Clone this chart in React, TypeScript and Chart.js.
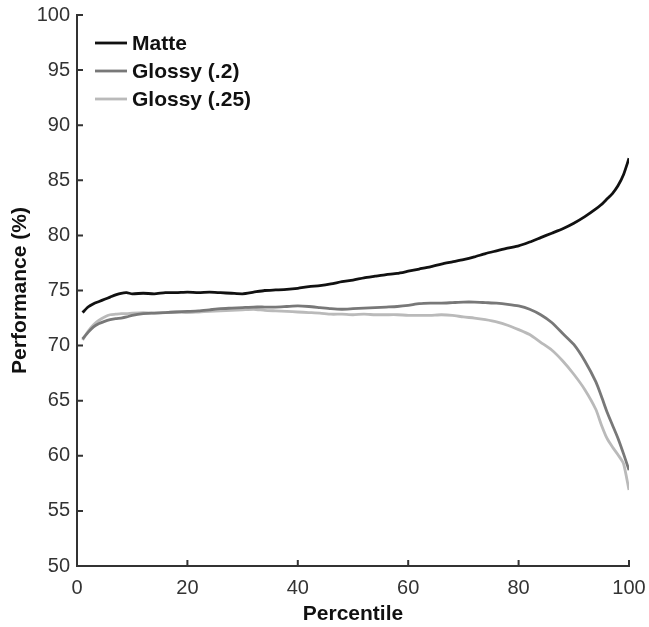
import React, { useEffect, useRef } from "react";
import { Chart, registerables } from "chart.js";

Chart.register(...registerables);

const percentiles = [1,2,3,4,5,6,7,8,9,10,12,14,16,18,20,22,24,26,28,30,32,34,36,38,40,42,44,46,48,50,52,54,56,58,60,62,64,66,68,70,72,74,76,78,80,82,84,86,88,90,92,94,95,96,97,98,99,100];

const matte = [73.0,73.5,73.8,74.0,74.2,74.4,74.6,74.75,74.8,74.7,74.75,74.7,74.8,74.8,74.85,74.8,74.85,74.8,74.75,74.7,74.85,75.0,75.05,75.1,75.2,75.35,75.45,75.6,75.8,75.95,76.15,76.3,76.45,76.55,76.75,76.95,77.15,77.4,77.6,77.8,78.05,78.35,78.6,78.85,79.05,79.4,79.8,80.2,80.6,81.1,81.7,82.4,82.8,83.3,83.8,84.5,85.5,87.0];

const glossy20 = [70.6,71.2,71.7,72.0,72.2,72.35,72.45,72.5,72.6,72.75,72.9,72.95,73.0,73.05,73.1,73.15,73.25,73.35,73.4,73.45,73.5,73.5,73.5,73.55,73.6,73.55,73.45,73.35,73.3,73.35,73.4,73.45,73.5,73.55,73.65,73.8,73.85,73.85,73.9,73.95,73.95,73.9,73.85,73.75,73.6,73.3,72.8,72.1,71.1,70.1,68.6,66.7,65.4,64.0,62.8,61.6,60.2,58.7];

const glossy25 = [70.5,71.3,71.9,72.3,72.6,72.8,72.85,72.9,72.9,72.95,73.0,72.95,73.0,73.05,73.0,73.05,73.1,73.15,73.2,73.25,73.3,73.2,73.15,73.1,73.05,73.0,72.95,72.85,72.85,72.8,72.85,72.8,72.8,72.8,72.75,72.75,72.75,72.8,72.75,72.6,72.5,72.35,72.15,71.85,71.45,71.0,70.3,69.6,68.6,67.4,66.0,64.2,62.8,61.6,60.8,60.1,59.3,56.9];

const seriesLabels = ["Matte", "Glossy (.2)", "Glossy (.25)"];
const seriesColors = ["#111111", "#787878", "#bababa"];

const xTicks = [0, 20, 40, 60, 80, 100];
const yTicks = [50, 55, 60, 65, 70, 75, 80, 85, 90, 95, 100];

const FONT = "'Liberation Sans', Arial, Helvetica, sans-serif";

const innerTicksAndLegend = {
  id: "innerTicksAndLegend",
  afterDraw(chart: any) {
    const ctx = chart.ctx;
    const { left, bottom } = chart.chartArea;
    const xs = chart.scales.x;
    const ys = chart.scales.y;
    ctx.save();
    ctx.strokeStyle = "#333333";
    ctx.lineWidth = 2;
    ctx.beginPath();
    yTicks.forEach((v) => {
      const py = ys.getPixelForValue(v);
      ctx.moveTo(left, py);
      ctx.lineTo(left + 6, py);
    });
    xTicks.forEach((v) => {
      const px = xs.getPixelForValue(v);
      ctx.moveTo(px, bottom);
      ctx.lineTo(px, bottom - 6);
    });
    ctx.stroke();

    // legend
    chart.data.datasets.forEach((ds: any, i: number) => {
      const y = 43 + 28 * i;
      ctx.strokeStyle = ds.borderColor;
      ctx.lineWidth = 2.8;
      ctx.beginPath();
      ctx.moveTo(95, y);
      ctx.lineTo(127, y);
      ctx.stroke();
      ctx.fillStyle = "#111111";
      ctx.font = `bold 21px ${FONT}`;
      ctx.textBaseline = "middle";
      ctx.textAlign = "left";
      ctx.fillText(ds.label, 132, y + 1);
    });
    ctx.restore();
  },
};

export default function App() {
  const ref = useRef<HTMLCanvasElement | null>(null);

  useEffect(() => {
    document.body.style.margin = "0";
    const canvas = ref.current;
    if (!canvas) return;
    const seriesValues = [matte, glossy20, glossy25];
    const chart = new Chart(canvas, {
      type: "line",
      data: {
        datasets: seriesValues.map((vals, i) => ({
          label: seriesLabels[i],
          data: percentiles.map((p, j) => ({ x: p, y: vals[j] })),
          borderColor: seriesColors[i],
          backgroundColor: seriesColors[i],
          borderWidth: 2.8,
          pointRadius: 0,
          tension: 0.2,
          fill: false,
        })),
      },
      options: {
        animation: false,
        responsive: false,
        maintainAspectRatio: false,
        layout: { padding: { top: 15, right: 20, left: 0, bottom: 0 } },
        plugins: {
          legend: { display: false },
          tooltip: { enabled: false },
        },
        scales: {
          x: {
            type: "linear",
            min: 0,
            max: 100,
            afterBuildTicks: (scale: any) => {
              scale.ticks = xTicks.map((v) => ({ value: v }));
            },
            afterFit: (scale: any) => {
              scale.height = 61;
              scale.paddingLeft = 0;
              scale.paddingRight = 0;
            },
            grid: { display: false, drawTicks: false },
            border: { display: true, color: "#333333", width: 2 },
            ticks: {
              padding: 10,
              color: "#333333",
              font: { family: FONT, size: 20 },
            },
            title: {
              display: true,
              text: "Percentile",
              color: "#111111",
              font: { family: FONT, size: 21, weight: "bold" },
              padding: { top: 0, bottom: 0 },
            },
          },
          y: {
            type: "linear",
            min: 50,
            max: 100,
            afterBuildTicks: (scale: any) => {
              scale.ticks = yTicks.map((v) => ({ value: v }));
            },
            afterFit: (scale: any) => {
              scale.width = 77;
              scale.paddingTop = 0;
              scale.paddingBottom = 0;
            },
            grid: { display: false, drawTicks: false },
            border: { display: true, color: "#333333", width: 2 },
            ticks: {
              padding: 7,
              color: "#333333",
              font: { family: FONT, size: 20 },
            },
            title: {
              display: true,
              text: "Performance (%)",
              color: "#111111",
              font: { family: FONT, size: 21, weight: "bold" },
              padding: { top: 8, bottom: 0 },
            },
          },
        },
      },
      plugins: [innerTicksAndLegend],
    });
    return () => chart.destroy();
  }, []);

  return (
    <div style={{ width: 649, height: 627, background: "#ffffff", overflow: "hidden" }}>
      <canvas ref={ref} width={649} height={627} style={{ display: "block" }} />
    </div>
  );
}
